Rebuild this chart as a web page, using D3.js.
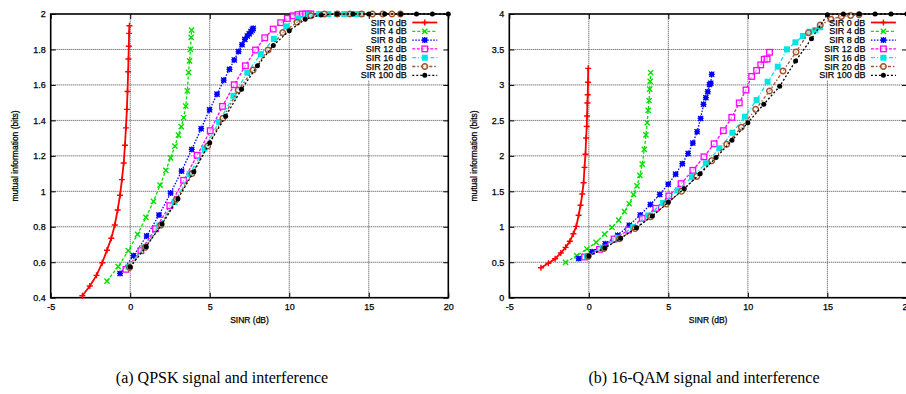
<!DOCTYPE html>
<html>
<head>
<meta charset="utf-8">
<script src="https://cdn.jsdelivr.net/npm/d3@7"></script>
<style>
	body { margin: 0; background: #fff; }
	svg { display: block; font-family: 'Liberation Sans', Arial, sans-serif; }
	.lbl { stroke: #000; stroke-width: 0.25; }
</style>
</head>
<body>
<svg id="canvas" width="906" height="394"></svg>
<script>
// SINR (dB) of each simulated point, one array per SIR curve (SNR steps 0..20 dB)
let sinrSir0 = [-3.01, -2.54, -2.12, -1.76, -1.46, -1.19, -0.97, -0.79, -0.64, -0.52, -0.41, -0.33, -0.27, -0.21, -0.17, -0.13, -0.11, -0.09, -0.07, -0.05, -0.04];
let sinrSir4 = [-1.46, -0.76, -0.12, 0.46, 0.99, 1.46, 1.88, 2.24, 2.54, 2.81, 3.03, 3.21, 3.36, 3.49, 3.59, 3.67, 3.73, 3.79, 3.83, 3.86, 3.89];
let sinrSir8 = [-0.64, 0.21, 1.03, 1.81, 2.54, 3.23, 3.87, 4.46, 4.99, 5.46, 5.88, 6.24, 6.54, 6.81, 7.03, 7.21, 7.36, 7.48, 7.59, 7.67, 7.73];
let sinrSir12 = [-0.27, 0.67, 1.59, 2.49, 3.36, 4.21, 5.03, 5.80, 6.54, 7.24, 7.88, 8.46, 8.99, 9.46, 9.88, 10.24, 10.55, 10.81, 11.03, 11.21, 11.36];
let sinrSir16 = [-0.11, 0.87, 1.83, 2.79, 3.73, 4.67, 5.59, 6.49, 7.36, 8.21, 9.03, 9.81, 10.55, 11.24, 11.88, 12.46, 12.99, 13.46, 13.88, 14.24, 14.55];
let sinrSir20 = [-0.04, 0.95, 1.93, 2.91, 3.89, 4.87, 5.83, 6.79, 7.73, 8.67, 9.59, 10.49, 11.36, 12.21, 13.03, 13.81, 14.55, 15.23, 15.88, 16.46, 16.99];
let sinrSir100 = [0, 1, 2, 3, 4, 5, 6, 7, 8, 9, 10, 11, 12, 13, 14, 15, 16, 17, 18, 19, 20];

let seriesLabels = ['SIR 0 dB', 'SIR 4 dB', 'SIR 8 dB', 'SIR 12 dB', 'SIR 16 dB', 'SIR 20 dB', 'SIR 100 dB'];

// (a) QPSK mutual information (bits)
let qpskSir0 = [0.411, 0.466, 0.526, 0.597, 0.668, 0.735, 0.810, 0.895, 0.978, 1.066, 1.160, 1.260, 1.358, 1.462, 1.563, 1.674, 1.746, 1.818, 1.891, 1.934];
let qpskSir4 = [0.494, 0.575, 0.665, 0.757, 0.853, 0.943, 1.035, 1.118, 1.189, 1.255, 1.317, 1.365, 1.415, 1.481, 1.567, 1.671, 1.736, 1.801, 1.868, 1.909];
let qpskSir8 = [0.537, 0.637, 0.748, 0.866, 0.990, 1.114, 1.236, 1.353, 1.460, 1.548, 1.627, 1.688, 1.741, 1.788, 1.827, 1.857, 1.876, 1.888, 1.900, 1.910, 1.919];
let qpskSir12 = [0.560, 0.665, 0.789, 0.919, 1.062, 1.203, 1.342, 1.479, 1.601, 1.708, 1.797, 1.866, 1.915, 1.951, 1.975, 1.990, 1.997, 2, 2, 2, 2];
let qpskSir16 = [0.575, 0.684, 0.808, 0.940, 1.097, 1.242, 1.392, 1.539, 1.669, 1.774, 1.860, 1.930, 1.975, 1.995, 2, 2, 2, 2, 2, 2, 2];
let qpskSir20 = [0.570, 0.684, 0.810, 0.955, 1.100, 1.255, 1.412, 1.571, 1.684, 1.797, 1.895, 1.953, 1.990, 2, 2, 2, 2, 2, 2, 2, 2];
let qpskSir100 = [0.573, 0.688, 0.815, 0.958, 1.111, 1.274, 1.424, 1.575, 1.708, 1.823, 1.906, 1.970, 1.995, 2, 2, 2, 2, 2, 2, 2, 2];

// (b) 16-QAM mutual information (bits)
let qamSir0 = [0.423, 0.485, 0.550, 0.630, 0.710, 0.795, 0.902, 1.006, 1.162, 1.303, 1.462, 1.621, 1.838, 2.022, 2.252, 2.416, 2.562, 2.745, 2.862, 3.037, 3.234];
let qamSir4 = [0.499, 0.592, 0.687, 0.781, 0.895, 0.993, 1.095, 1.215, 1.325, 1.455, 1.578, 1.725, 1.883, 2.090, 2.295, 2.467, 2.640, 2.780, 2.940, 3.050, 3.172];
let qamSir8 = [0.552, 0.649, 0.760, 0.880, 1.022, 1.166, 1.313, 1.455, 1.600, 1.742, 1.890, 2.033, 2.180, 2.340, 2.527, 2.727, 2.820, 2.905, 3.005, 3.025, 3.150];
let qamSir12 = [0.574, 0.682, 0.827, 0.954, 1.119, 1.260, 1.434, 1.608, 1.796, 1.986, 2.170, 2.355, 2.543, 2.746, 2.929, 3.120, 3.205, 3.283, 3.362, 3.365, 3.460];
let qamSir16 = [0.585, 0.705, 0.845, 0.995, 1.160, 1.335, 1.515, 1.700, 1.895, 2.106, 2.326, 2.552, 2.787, 3.045, 3.257, 3.502, 3.601, 3.690, 3.750, 3.774, 3.813];
let qamSir20 = [0.585, 0.695, 0.830, 0.975, 1.140, 1.320, 1.500, 1.710, 1.932, 2.163, 2.402, 2.656, 2.914, 3.196, 3.464, 3.736, 3.845, 3.925, 3.965, 3.980, 3.990];
let qamSir100 = [0.588, 0.700, 0.837, 0.987, 1.152, 1.345, 1.537, 1.749, 1.975, 2.219, 2.468, 2.727, 2.980, 3.338, 3.650, 3.990, 4, 4, 4, 4, 4];

let xTicks = [-5, 0, 5, 10, 15, 20];
let qpskYTicks = [0.4, 0.6, 0.8, 1, 1.2, 1.4, 1.6, 1.8, 2];
let qamYTicks = [0, 0.5, 1, 1.5, 2, 2.5, 3, 3.5, 4];
let captions = ['(a) QPSK signal and interference', '(b) 16-QAM signal and interference'];

let sinrSets = [sinrSir0, sinrSir4, sinrSir8, sinrSir12, sinrSir16, sinrSir20, sinrSir100];

// gnuplot postscript-like styles
let colors = ['#ff0000', '#00e000', '#0000ff', '#ff00ff', '#00e5e5', '#a0522d', '#000000'];
let dashes = [null, '3,2', '1.5,1.5', '3,1.5', '4,2,1,2', '3,2,1.5,2', '2,2'];
let markers = ['plus', 'cross', 'star', 'boxOpen', 'boxFilled', 'circleOpen', 'circleFilled'];

let canvas = d3.select('#canvas');

let addMarker = (g, type, color) => {
	if (type === 'plus') {
		g.append('path').attr('d', 'M-3,0H3M0,-3V3').attr('stroke', color).attr('stroke-width', 1.4);
	} else if (type === 'cross') {
		g.append('path').attr('d', 'M-2.6,-2.6L2.6,2.6M-2.6,2.6L2.6,-2.6').attr('stroke', color).attr('stroke-width', 1.4);
	} else if (type === 'star') {
		g.append('rect').attr('x', -2.2).attr('y', -2.2).attr('width', 4.4).attr('height', 4.4).attr('fill', color);
		g.append('path').attr('d', 'M-3,0H3M0,-3V3M-2.6,-2.6L2.6,2.6M-2.6,2.6L2.6,-2.6').attr('stroke', color).attr('stroke-width', 1.2);
	} else if (type === 'boxOpen') {
		g.append('rect').attr('x', -2.8).attr('y', -2.8).attr('width', 5.6).attr('height', 5.6)
			.attr('fill', '#fff').attr('fill-opacity', 0.6).attr('stroke', color).attr('stroke-width', 1.3);
	} else if (type === 'boxFilled') {
		g.append('rect').attr('x', -3).attr('y', -3).attr('width', 6).attr('height', 6).attr('fill', color);
	} else if (type === 'circleOpen') {
		g.append('circle').attr('r', 2.8).attr('fill', '#fff').attr('fill-opacity', 0.5)
			.attr('stroke', color).attr('stroke-width', 1.4);
	} else {
		g.append('circle').attr('r', 2.5).attr('fill', color);
	}
};

let drawPanel = (panel) => {
	let x = d3.scaleLinear().domain([-5, 20]).range([panel.left, panel.left + 397.6]);
	let y = d3.scaleLinear().domain(panel.yDomain).range([297.7, 14]);
	let [x0, x1] = x.range();
	let [y0, y1] = y.range();
	let g = canvas.append('g');

	// dotted grid
	g.selectAll('.vgrid')
		.data(xTicks.slice(1, -1))
		.enter()
		.append('line')
		.attr('x1', (d) => x(d)).attr('x2', (d) => x(d))
		.attr('y1', y0).attr('y2', y1)
		.attr('stroke', '#444').attr('stroke-width', 1).attr('stroke-dasharray', '1,1');
	g.selectAll('.hgrid')
		.data(panel.yTicks.slice(1, -1))
		.enter()
		.append('line')
		.attr('x1', x0).attr('x2', x1)
		.attr('y1', (d) => y(d)).attr('y2', (d) => y(d))
		.attr('stroke', '#444').attr('stroke-width', 1).attr('stroke-dasharray', '1,1');

	// opaque key area
	g.append('rect')
		.attr('x', x1 - 96).attr('y', 16)
		.attr('width', 95).attr('height', 64)
		.attr('fill', '#fff');

	// ticks on all four sides, pointing in
	let tickStyle = (a) => {
		a.select('.domain').remove();
		a.selectAll('line').attr('stroke', '#000').attr('stroke-width', 1);
		a.selectAll('text').attr('class', 'lbl').attr('font-size', 9).attr('fill', '#000').attr('font-family', 'Liberation Sans, Arial, sans-serif');
	};
	g.append('g').attr('transform', `translate(0,${y0})`)
		.call(d3.axisBottom(x).tickValues(xTicks).tickSizeInner(-5).tickSizeOuter(0).tickPadding(6).tickFormat((d) => d))
		.call(tickStyle);
	g.append('g').attr('transform', `translate(0,${y1})`)
		.call(d3.axisTop(x).tickValues(xTicks).tickSizeInner(-5).tickSizeOuter(0).tickFormat(''))
		.call(tickStyle);
	g.append('g').attr('transform', `translate(${x0},0)`)
		.call(d3.axisLeft(y).tickValues(panel.yTicks).tickSizeInner(-5).tickSizeOuter(0).tickPadding(5).tickFormat((d) => d))
		.call(tickStyle);
	g.append('g').attr('transform', `translate(${x1},0)`)
		.call(d3.axisRight(y).tickValues(panel.yTicks).tickSizeInner(-5).tickSizeOuter(0).tickFormat(''))
		.call(tickStyle);

	g.append('rect')
		.attr('x', x0).attr('y', y1)
		.attr('width', x1 - x0).attr('height', y0 - y1)
		.attr('fill', 'none').attr('stroke', '#000').attr('stroke-width', 1.6);

	// axis titles
	g.append('text')
		.attr('class', 'lbl')
		.attr('x', (x0 + x1) / 2).attr('y', 323)
		.attr('text-anchor', 'middle').attr('font-size', 8.5)
		.text('SINR (dB)');
	g.append('text')
		.attr('class', 'lbl')
		.attr('transform', `translate(${x0 - 35.5},156) rotate(-90)`)
		.attr('text-anchor', 'middle').attr('dy', '0.35em').attr('font-size', 8.5)
		.text('mutual information (bits)');

	// curves
	let line = d3.line().x((d) => x(d[0])).y((d) => y(d[1]));
	panel.series.forEach((values, i) => {
		let pts = values.map((v, k) => [sinrSets[i][k], v]);
		let path = g.append('path')
			.datum(pts)
			.attr('d', line)
			.attr('fill', 'none')
			.attr('stroke', colors[i])
			.attr('stroke-width', i === 0 ? 1.8 : 1.3);
		if (dashes[i]) path.attr('stroke-dasharray', dashes[i]);
		g.append('g')
			.selectAll('g')
			.data(pts)
			.enter()
			.append('g')
			.attr('transform', (d) => `translate(${x(d[0])},${y(d[1])})`)
			.each(function () { addMarker(d3.select(this), markers[i], colors[i]); });
	});

	// key
	seriesLabels.forEach((label, i) => {
		let ky = 22.5 + i * 8.8;
		g.append('text')
			.attr('class', 'lbl')
			.attr('x', x1 - 41.5).attr('y', ky)
			.attr('dy', '0.35em')
			.attr('text-anchor', 'end').attr('font-size', 9)
			.text(label);
		let s = g.append('line')
			.attr('x1', x1 - 36).attr('x2', x1 - 11)
			.attr('y1', ky).attr('y2', ky)
			.attr('stroke', colors[i]).attr('stroke-width', i === 0 ? 1.8 : 1.3);
		if (dashes[i]) s.attr('stroke-dasharray', dashes[i]);
		let m = g.append('g').attr('transform', `translate(${x1 - 23.5},${ky})`);
		addMarker(m, markers[i], colors[i]);
	});

	canvas.append('text')
		.attr('x', panel.captionX).attr('y', 383)
		.attr('text-anchor', 'middle')
		.attr('font-family', 'Liberation Serif, Times New Roman, serif')
		.attr('font-size', 16)
		.text(panel.caption);
};

let panels = [
	{ left: 50.7, yDomain: [0.4, 2], yTicks: qpskYTicks, captionX: 222, caption: captions[0],
		series: [qpskSir0, qpskSir4, qpskSir8, qpskSir12, qpskSir16, qpskSir20, qpskSir100] },
	{ left: 509.3, yDomain: [0, 4], yTicks: qamYTicks, captionX: 704, caption: captions[1],
		series: [qamSir0, qamSir4, qamSir8, qamSir12, qamSir16, qamSir20, qamSir100] }
];

panels.forEach(drawPanel);
</script>
</body>
</html>
